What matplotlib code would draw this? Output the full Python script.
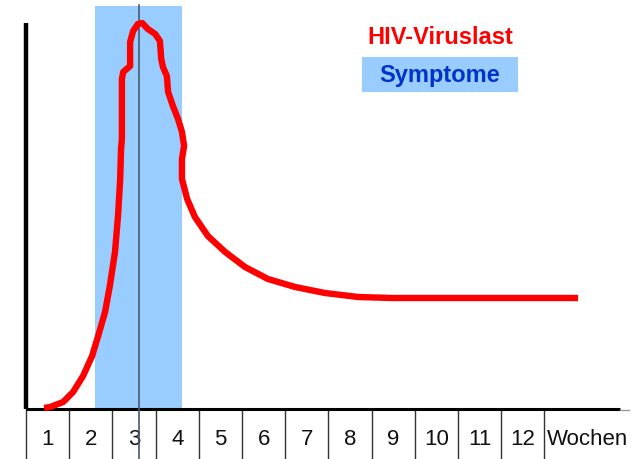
import matplotlib
matplotlib.use("Agg")
import matplotlib.pyplot as plt
from matplotlib.patches import Rectangle

# Wochen-Beschriftungen unter der Achse
wochen = ["1", "2", "3", "4", "5", "6", "7", "8", "9", "10", "11", "12"]
achsen_label = "Wochen"

# Symptom-Phase (in Wochen)
symptom_start = 1.6
symptom_ende = 3.61
marker_woche = 2.62

# HIV-Viruslast (Wochen, relative Last)
t = [0.42, 0.56, 0.86, 1.09, 1.32, 1.53, 1.67, 1.83, 1.94, 2.06, 2.13,
     2.18, 2.20, 2.22, 2.22, 2.25, 2.41, 2.41, 2.48, 2.59, 2.69, 2.82,
     2.99, 3.10, 3.13, 3.17, 3.26, 3.29, 3.40, 3.52, 3.61, 3.66, 3.61,
     3.61, 3.73, 3.91, 4.21, 4.61, 5.07, 5.60, 6.23, 6.92, 7.69, 8.47,
     12.78]
last = [0.25, 0.5, 1.75, 4.25, 8.25, 13.25, 18.25, 24.25, 30.75, 39.25, 48.25,
        57.5, 65.0, 67.5, 82.5, 84.25, 85.75, 91.75, 94.5, 96.25, 96.5, 95.0,
        93.75, 92.0, 87.5, 85.5, 83.25, 79.25, 75.75, 72.5, 69.25, 65.75, 62.5,
        57.5, 52.5, 48.0, 43.25, 39.25, 35.5, 32.5, 30.5, 29.0, 28.0, 27.75,
        27.75]

fig = plt.figure(figsize=(6.41, 4.60), dpi=100)
ax = fig.add_axes([0, 0, 1, 1])
ax.set_xlim(-0.602, 14.236)
ax.set_ylim(-12.5, 102.5)
ax.axis("off")

# blaue Symptom-Phase
ax.axvspan(symptom_start, symptom_ende, ymin=0.108, ymax=0.985,
           color="#99CCFF", lw=0, zorder=1)

# Achsen
ax.plot([0, 0], [0, 96.5], color="black", lw=3.2, solid_capstyle="butt", zorder=3)
ax.plot([0, 13.75], [0, 0], color="black", lw=2.2, solid_capstyle="butt", zorder=3)
ax.plot([13.75, 13.95], [-0.2, -0.2], color="#999999", lw=1, zorder=3)

# Kasten-Trennlinien unter der Achse
for i in range(len(wochen) + 1):
    ax.plot([i, i], [0, -12.5], color="#333333", lw=1, zorder=2)
for i, w in enumerate(wochen):
    ax.text(i + 0.5, -7.3, w, ha="center", va="center",
            fontsize=16, family="Liberation Sans", color="#111111")
ax.text(13.0, -7.3, achsen_label, ha="center", va="center",
        fontsize=16, family="Liberation Sans", color="#111111")

# Markierungslinie
ax.plot([marker_woche, marker_woche], [-12.5, 101], color="#4a5a70", lw=1.2, zorder=4)

# Viruslast-Kurve
ax.plot(t, last, color="#FF0000", lw=4.6, solid_joinstyle="round",
        solid_capstyle="butt", zorder=5)

# Legende
ax.text(9.58, 93.25, "HIV-Viruslast", ha="center", va="center", fontsize=17,
        fontweight="bold", family="Liberation Sans", color="#FF0000")
ax.add_patch(Rectangle((7.78, 79.25), 3.61, 8.75, fc="#99CCFF", ec="none", zorder=2))
ax.text(9.58, 83.6, "Symptome", ha="center", va="center", fontsize=17,
        fontweight="bold", family="Liberation Sans", color="#0033CC", zorder=3)

fig.savefig("out.png", dpi=100)
